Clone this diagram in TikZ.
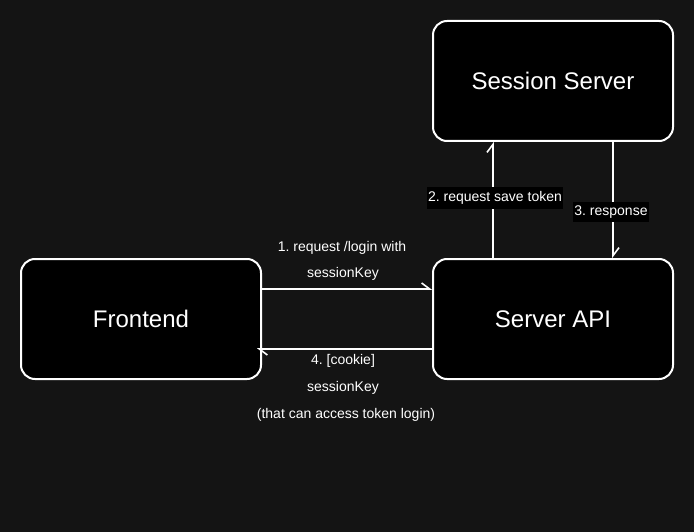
\documentclass[tikz,border=0pt]{standalone}
\usepackage{fontspec}
\setmainfont{Liberation Sans}
\usetikzlibrary{arrows.meta}
\definecolor{bgc}{RGB}{20,20,20}
\frenchspacing
\begin{document}
\begin{tikzpicture}[x=1pt,y=-1pt,
  box/.style={draw=white,line width=2pt,fill=black,rounded corners=14pt,minimum width=240pt,minimum height=120pt,text=white,font=\fontsize{24}{28}\selectfont,inner sep=0pt},
  conn/.style={draw=white,line width=2pt,-{Straight Barb[harpoon,length=8pt,width=12pt,line width=1.6pt]}},
  lbl/.style={text=white,font=\fontsize{14}{16}\selectfont\frenchspacing,inner sep=1.5pt},
  lblbg/.style={lbl,fill=black,inner xsep=1pt,inner ysep=4pt}
]
\fill[bgc] (0,0) rectangle (694,532);
\useasboundingbox (0,0) rectangle (694,532);
\node[box] (sess) at (553,81) {Session Server};
\node[box] (front) at (141,319) {Frontend};
\node[box] (api) at (553,319) {Server API};
\coordinate (a1s) at (262,289);
\coordinate (a1e) at (432,289);
\draw[conn] (a1s) -- (a1e);
\coordinate (a4s) at (432,349);
\coordinate (a4e) at (257,349);
\draw[conn] (a4s) -- (a4e);
\coordinate (a2s) at (493,258);
\coordinate (a2e) at (493,142);
\draw[conn] (a2s) -- (a2e);
\coordinate (a3s) at (613,142);
\coordinate (a3e) at (613,258);
\draw[conn] (a3s) -- (a3e);
\node[lbl] (l1a) at (342,248) {1. request /login with};
\node[lbl] (l1b) at (343,274) {sessionKey};
\node[lbl] (l4a) at (343,361) {4. [cookie]};
\node[lbl] (l4b) at (343,388) {sessionKey};
\node[lbl] (l4c) at (346,415) {(that can access token login)};
\node[lblbg] (l2) at (495,198) {2. request save token};
\node[lblbg] (l3) at (611,212) {3. response};
\end{tikzpicture}
\end{document}
